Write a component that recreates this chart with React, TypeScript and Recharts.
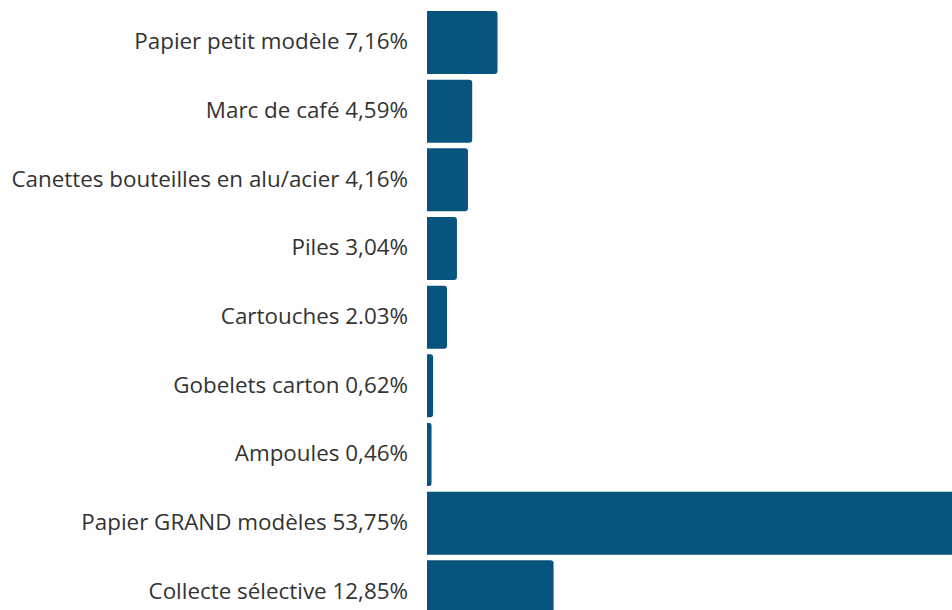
import { BarChart, Bar, XAxis, YAxis } from "recharts";

const categories = [
  "Papier petit modèle",
  "Marc de café",
  "Canettes bouteilles en alu/acier",
  "Piles",
  "Cartouches",
  "Gobelets carton",
  "Ampoules",
  "Papier GRAND modèles",
  "Collecte sélective",
];
const shares = [7.16, 4.59, 4.16, 3.04, 2.03, 0.62, 0.46, 53.75, 12.85];
const shareLabels = ["7,16%", "4,59%", "4,16%", "3,04%", "2.03%", "0,62%", "0,46%", "53,75%", "12,85%"];

const data = categories.map((name, i) => ({
  name: `${name} ${shareLabels[i]}`,
  value: shares[i],
}));

const LabelTick = (props: any) => {
  const { x, y, payload } = props;
  return (
    <text
      x={x - 11}
      y={y}
      dy={7}
      textAnchor="end"
      fill="#333333"
      fontSize={22.4}
      fontFamily="'Open Sans', sans-serif"
    >
      {payload.value}
    </text>
  );
};

const App = () => {
  return (
    <div
      style={{
        position: "fixed",
        left: 0,
        top: 0,
        width: 952,
        height: 610,
        overflow: "hidden",
        background: "#fff",
      }}
    >
      <BarChart
        width={952}
        height={632}
        data={data}
        layout="vertical"
        margin={{ top: 8, right: 0, bottom: 6, left: 0 }}
      >
        <XAxis type="number" domain={[0, 53.3]} allowDataOverflow hide />
        <YAxis
          type="category"
          dataKey="name"
          width={427}
          axisLine={false}
          tickLine={false}
          tick={<LabelTick />}
          interval={0}
        />
        <Bar
          dataKey="value"
          fill="#07557e"
          barSize={63}
          radius={[0, 3, 3, 0]}
          isAnimationActive={false}
        />
      </BarChart>
    </div>
  );
};

export default App;
